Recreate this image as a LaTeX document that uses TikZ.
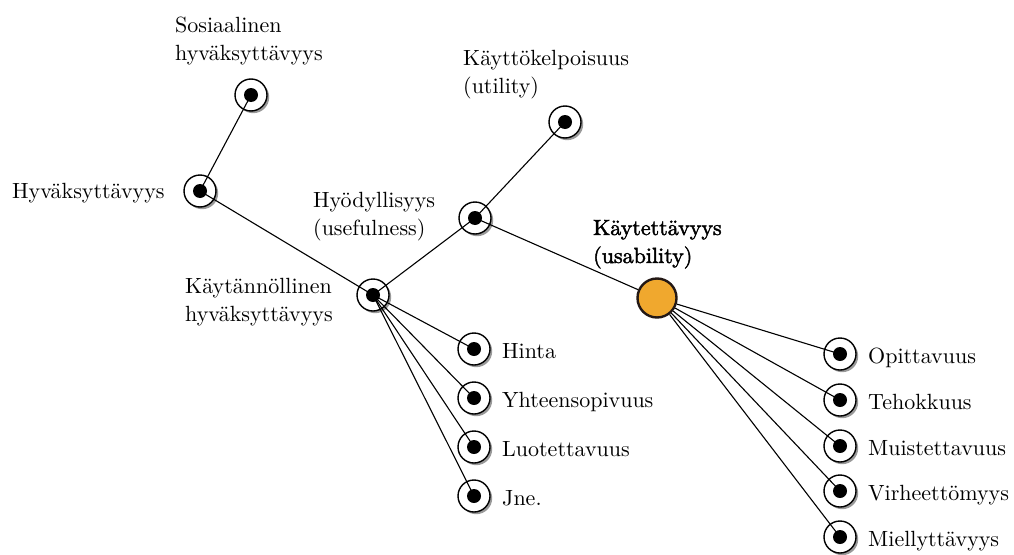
\documentclass[tikz,border=0pt]{standalone}
\usepackage{fontspec}
\setmainfont{lmroman10-regular.otf}[BoldFont=lmroman10-bold.otf]
\newfontfamily\semibold{lmroman10-regular.otf}[FakeBold=2]
\usetikzlibrary{shadows,calc}
\definecolor{usaorange}{HTML}{F0A82E}
\definecolor{hubborder}{HTML}{231815}
\begin{document}
\begin{tikzpicture}[x=1pt,y=-1pt,
  ring/.style={circle, draw=black, line width=1.4pt, fill=white, minimum size=32pt, inner sep=0pt,
    drop shadow={shadow xshift=2.2pt, shadow yshift=-2.2pt, fill=black!40, opacity=1},
    path picture={\fill[black] (path picture bounding box.center) circle (7pt);}},
  hub/.style={circle, draw=hubborder, line width=2.4pt, fill=usaorange, minimum size=39pt, inner sep=0pt},
  link/.style={draw=black, line width=1.1pt},
  lbl/.style={font=\fontsize{22}{28}\selectfont, inner sep=0pt, anchor=base west, align=left, text=black},
  leaflbl/.style={lbl}]
\useasboundingbox (0,0) rectangle (1014,554);

% ring nodes
\node[ring] (sos) at (251,95) {};
\node[ring] (hyv) at (200,191) {};
\node[ring] (kay) at (373,295) {};
\node[ring] (hyo) at (475,218) {};
\node[ring] (util) at (565,122) {};
\node[ring] (hinta) at (474,349) {};
\node[ring] (yht) at (474,398) {};
\node[ring] (luo) at (474,447) {};
\node[ring] (jne) at (474,496) {};
\node[ring] (op) at (840,354) {};
\node[ring] (te) at (840,400) {};
\node[ring] (mu) at (840,446) {};
\node[ring] (vi) at (840,491) {};
\node[ring] (mi) at (840,537) {};

% hub
\node[hub] (use) at (657,298) {};

% connectors
\draw[link] (sos.center) -- (hyv.center);
\draw[link] (hyv.center) -- (kay.center);
\draw[link] (kay.center) -- (hyo.center);
\draw[link] (hyo.center) -- (util.center);
\draw[link] (hyo.center) -- (use);
\foreach \n in {hinta,yht,luo,jne} \draw[link] (kay.center) -- (\n.center);
\foreach \n in {op,te,mu,vi,mi} \draw[link] (use) -- (\n.center);

% labels (anchor = baseline of last line)
\node[lbl] (tsos) at (175,60) {Sosiaalinen\\hyväksyttävyys};
\node[lbl] (thyv) at (12,198) {Hyväksyttävyys};
\node[lbl] (tutil) at (463,93) {Käyttökelpoisuus\\(utility)};
\node[lbl] (thyo) at (313,235) {Hyödyllisyys\\(usefulness)};
\node[lbl] (tkay) at (185,321) {Käytännöllinen\\hyväksyttävyys};
\node[lbl, font=\fontsize{22}{28}\semibold] (tuse) at (593,263) {Käytettävyys\\(usability)};

\node[leaflbl] (thinta) at ($(hinta.center)+(28,9)$) {Hinta};
\node[leaflbl] (tyht) at ($(yht.center)+(28,9)$) {Yhteensopivuus};
\node[leaflbl] (tluo) at ($(luo.center)+(28,9)$) {Luotettavuus};
\node[leaflbl] (tjne) at ($(jne.center)+(28,9)$) {Jne.};
\node[leaflbl] (top) at ($(op.center)+(28,9)$) {Opittavuus};
\node[leaflbl] (tte) at ($(te.center)+(28,9)$) {Tehokkuus};
\node[leaflbl] (tmu) at ($(mu.center)+(28,9)$) {Muistettavuus};
\node[leaflbl] (tvi) at ($(vi.center)+(28,9)$) {Virheettömyys};
\node[leaflbl] (tmi) at ($(mi.center)+(28,9)$) {Miellyttävyys};
\end{tikzpicture}
\end{document}
